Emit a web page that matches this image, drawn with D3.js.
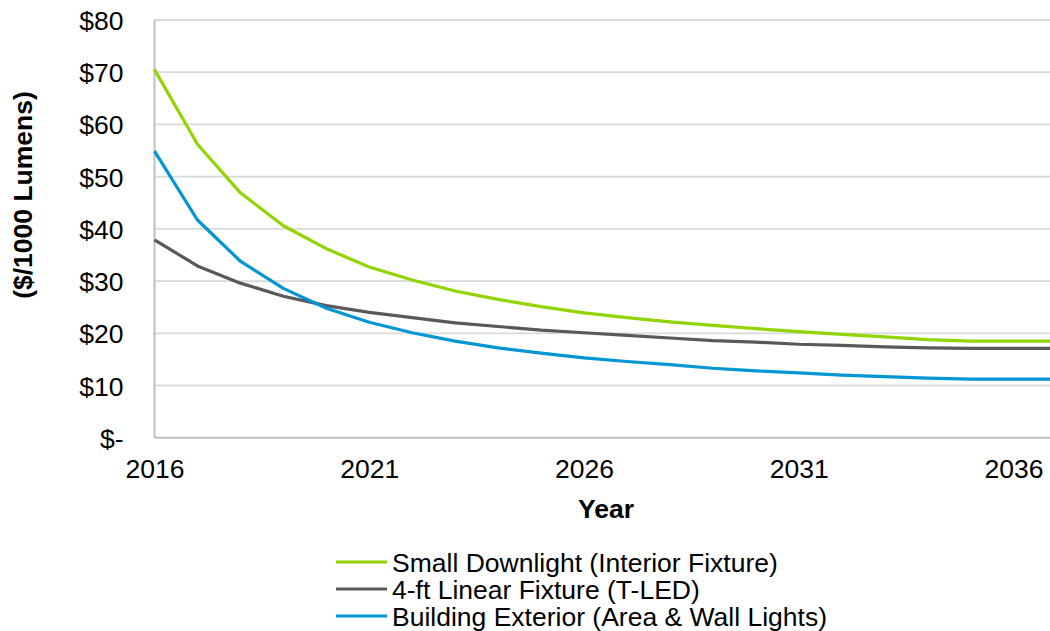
<!DOCTYPE html>
<html><head><meta charset="utf-8">
<script src="https://cdn.jsdelivr.net/npm/d3@7"></script>
<style>
html,body{margin:0;padding:0;background:#fff;}
svg{display:block;font-family:"Liberation Sans",Arial,sans-serif;}
</style></head>
<body>
<svg id="chart" width="1050" height="631"></svg>
<script>
const years = [2016,2017,2018,2019,2020,2021,2022,2023,2024,2025,2026,2027,2028,2029,2030,2031,2032,2033,2034,2035,2036,2037];
const xTickLabels = [2016,2021,2026,2031,2036];
const yTickValues = [0,10,20,30,40,50,60,70,80];
const seriesNames = ["Small Downlight (Interior Fixture)","4-ft Linear Fixture (T-LED)","Building Exterior (Area & Wall Lights)"];
const smallDownlight = [70.5,56.2,46.9,40.6,36.2,32.7,30.2,28.1,26.5,25.1,23.9,23.0,22.2,21.5,20.9,20.3,19.8,19.3,18.8,18.5,18.5,18.5];
const linearFixture  = [37.9,32.9,29.6,27.1,25.3,24.0,23.0,22.0,21.3,20.6,20.1,19.6,19.1,18.6,18.3,17.9,17.7,17.4,17.2,17.1,17.1,17.1];
const buildingExterior = [54.9,41.7,33.8,28.6,24.8,22.1,20.1,18.5,17.2,16.2,15.3,14.6,14.0,13.3,12.8,12.4,12.0,11.7,11.4,11.2,11.2,11.2];
const colors = ["#92d400","#58595b","#0095d3"];

(function(){
const fs = 26.5;
const svg = d3.select("#chart");
const pLeft = 154.5, step = 42.95, pTop = 20, pBottom = 437.7;
const x = d3.scaleLinear().domain([2016,2037]).range([pLeft, pLeft + 21*step]);
const y = d3.scaleLinear().domain([0,80]).range([pBottom, pTop]);

svg.append("g").selectAll("line").data(yTickValues.filter(v=>v>0)).join("line")
  .attr("x1", pLeft).attr("x2", 1050)
  .attr("y1", d=>y(d)).attr("y2", d=>y(d))
  .attr("stroke","#d9d9d9").attr("stroke-width",1.8);

svg.append("line").attr("x1",pLeft).attr("x2",pLeft).attr("y1",pTop).attr("y2",pBottom)
  .attr("stroke","#bfbfbf").attr("stroke-width",2);
svg.append("line").attr("x1",pLeft).attr("x2",1050).attr("y1",pBottom).attr("y2",pBottom)
  .attr("stroke","#bfbfbf").attr("stroke-width",2);

const yAxis = d3.axisLeft(y).tickValues(yTickValues).tickSize(0).tickPadding(0)
  .tickFormat(d => d===0 ? "$-" : "$"+d);
const gy = svg.append("g").attr("transform",`translate(${pLeft-31},0)`).call(yAxis);
gy.select(".domain").remove();
gy.selectAll("text").attr("font-size",fs).attr("fill","#000").attr("font-family","Liberation Sans, Arial, sans-serif").attr("dy","0.36em");

const xAxis = d3.axisBottom(x).tickValues(xTickLabels).tickSize(0).tickPadding(0).tickFormat(d3.format("d"));
const gx = svg.append("g").attr("transform",`translate(0,${pBottom+21.8})`).call(xAxis);
gx.select(".domain").remove();
gx.selectAll("text").attr("font-size",fs).attr("fill","#000").attr("font-family","Liberation Sans, Arial, sans-serif");

const allSeries = [smallDownlight, linearFixture, buildingExterior];
const line = d3.line().x((d,i)=>x(years[i])).y(d=>y(d));
svg.append("g").selectAll("path").data(allSeries).join("path")
  .attr("d", line).attr("fill","none")
  .attr("stroke",(d,i)=>colors[i]).attr("stroke-width",3.2)
  .attr("stroke-linejoin","round");

svg.append("text").attr("x",606).attr("y",518).attr("text-anchor","middle")
  .attr("font-size",fs).attr("font-weight","bold").text("Year");
svg.append("text").attr("transform","translate(32,195) rotate(-90)").attr("text-anchor","middle")
  .attr("font-size",fs).attr("font-weight","bold").text("($/1000 Lumens)");

const lg = svg.append("g").attr("transform","translate(336,562)");
const items = lg.selectAll("g").data(seriesNames).join("g").attr("transform",(d,i)=>`translate(0,${i*27})`);
items.append("line").attr("x1",0).attr("x2",51).attr("y1",0).attr("y2",0)
  .attr("stroke",(d,i)=>colors[i]).attr("stroke-width",3.2);
items.append("text").attr("x",56).attr("y",0).attr("dy","0.36em").attr("font-size",fs).text(d=>d);
})();
</script>
</body></html>
